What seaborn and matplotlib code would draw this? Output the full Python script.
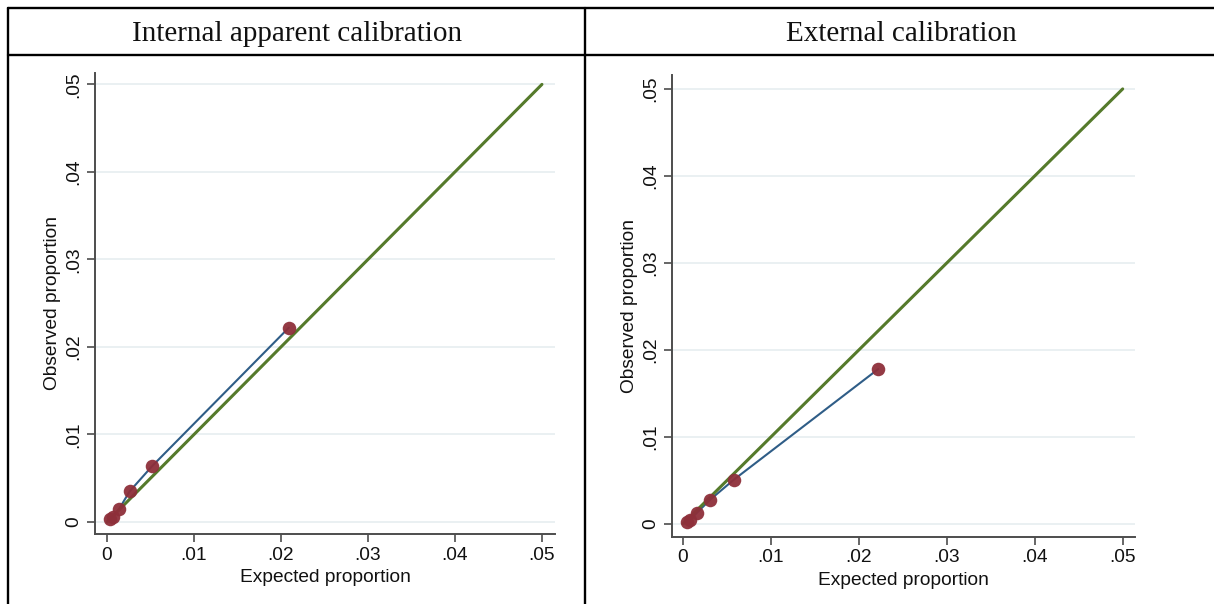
import numpy as np
import pandas as pd
import matplotlib
matplotlib.use("Agg")
import matplotlib.pyplot as plt
import seaborn as sns
from matplotlib.lines import Line2D

# ---- data ----
titles = ["Internal apparent calibration", "External calibration"]
int_expected = [0.0004, 0.0007, 0.0014, 0.0026, 0.0052, 0.0209]
int_observed = [0.0003, 0.0006, 0.0015, 0.0035, 0.0064, 0.0222]
ext_expected = [0.0004, 0.0008, 0.0016, 0.0031, 0.0058, 0.0222]
ext_observed = [0.0002, 0.0005, 0.0013, 0.0028, 0.0051, 0.0178]
diag = [0.0, 0.05]
ticks = [0, 0.01, 0.02, 0.03, 0.04, 0.05]
tick_labels = ["0", ".01", ".02", ".03", ".04", ".05"]

sns.set_theme(style="white")
plt.rcParams['font.family'] = ['Liberation Sans', 'DejaVu Sans']

W, H = 1214, 604
fig = plt.figure(figsize=(W / 100, H / 100), dpi=100)

def fx(px):
    return px / W

def fy(py):
    return 1 - py / H

panels = [
    dict(pos=[fx(95), fy(534), fx(555) - fx(95), fy(73) - fy(534)],
         xlim=(-0.00138, 0.0515), ylim=(-0.00137, 0.0513),
         ex=int_expected, ob=int_observed, title=titles[0], tx=fx(297)),
    dict(pos=[fx(672), fy(537), fx(1135) - fx(672), fy(75) - fy(537)],
         xlim=(-0.00125, 0.0514), ylim=(-0.0015, 0.0516),
         ex=ext_expected, ob=ext_observed, title=titles[1], tx=fx(901)),
]

green = "#557a2b"
blue = "#2f5d87"
maroon = "#8e2f3a"
spine_c = "#4d4d4d"
fs = 13.8

for p in panels:
    ax = fig.add_axes(p["pos"])
    df = pd.DataFrame({"x": p["ex"], "y": p["ob"]})
    dd = pd.DataFrame({"x": diag, "y": diag})
    sns.lineplot(data=df, x="x", y="y", ax=ax, color=blue, lw=1.5, sort=False, zorder=3)
    sns.lineplot(data=dd, x="x", y="y", ax=ax, color=green, lw=2.2, zorder=4)
    sns.scatterplot(data=df, x="x", y="y", ax=ax, color=maroon, s=95, edgecolor=maroon,
                    linewidth=0, zorder=5, alpha=0.95)
    ax.set_xlim(*p["xlim"])
    ax.set_ylim(*p["ylim"])
    ax.set_xticks(ticks)
    ax.set_xticklabels(tick_labels, fontsize=fs, color="#111111")
    ax.set_yticks(ticks)
    ax.set_yticklabels(tick_labels, fontsize=fs, color="#111111", rotation=90, va="center")
    ax.set_xlabel("Expected proportion", fontsize=fs, color="#111111", labelpad=4)
    ax.set_ylabel("Observed proportion", fontsize=fs, color="#111111", labelpad=3)
    ax.grid(axis="y", color="#e6edf0", lw=1.2)
    ax.grid(axis="x", visible=False)
    for s in ["top", "right"]:
        ax.spines[s].set_visible(False)
    for s in ["left", "bottom"]:
        ax.spines[s].set_color(spine_c)
        ax.spines[s].set_linewidth(1.4)
    ax.tick_params(axis="both", direction="out", length=6, width=1.2, color=spine_c,
                   left=True, bottom=True, pad=3)
    ax.set_facecolor("white")
    fig.text(p["tx"], fy(34), p["title"], ha="center", va="center", fontsize=21,
             family=["Liberation Serif", "DejaVu Serif"], color="#111111")

# table frame lines
lw = 1.7
fig.add_artist(Line2D([fx(8), 1], [fy(8), fy(8)], color="black", lw=lw))
fig.add_artist(Line2D([fx(8), 1], [fy(55), fy(55)], color="black", lw=lw))
fig.add_artist(Line2D([fx(8), fx(8)], [fy(8), 0], color="black", lw=lw))
fig.add_artist(Line2D([fx(585), fx(585)], [fy(8), 0], color="black", lw=lw))

fig.savefig("out.png", dpi=100, facecolor="white")
